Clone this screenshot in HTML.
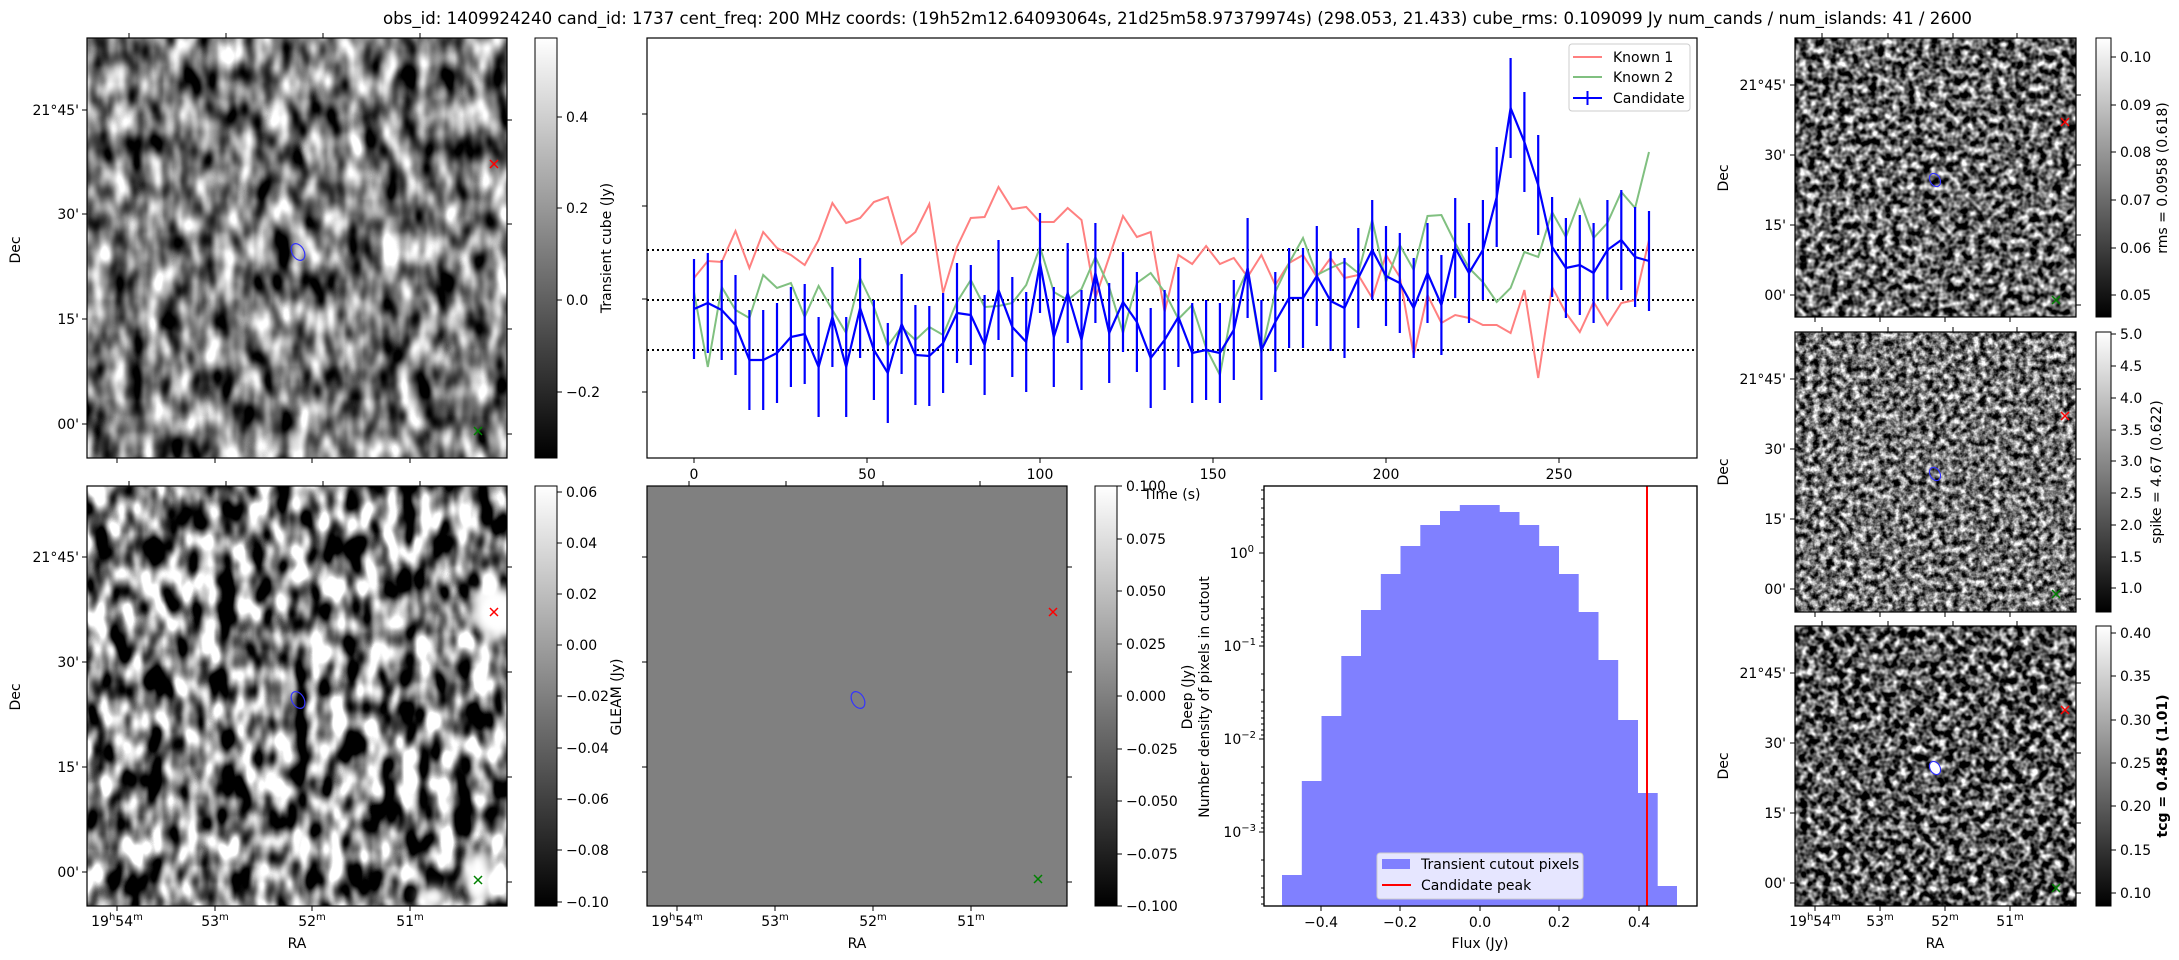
<!DOCTYPE html>
<html><head><meta charset="utf-8"><style>
html,body{margin:0;padding:0;background:#fff;}
svg{display:block;font-family:"DejaVu Sans","Liberation Sans",sans-serif;}
</style></head><body>
<svg width="2179" height="960" viewBox="0 0 2179 960" xmlns="http://www.w3.org/2000/svg">
<defs>
<linearGradient id="cb" x1="0" y1="1" x2="0" y2="0"><stop offset="0" stop-color="#000"/><stop offset="1" stop-color="#fff"/></linearGradient>
<filter id="n1" filterUnits="userSpaceOnUse" x="87" y="38" width="420" height="420" color-interpolation-filters="sRGB">
<feTurbulence type="fractalNoise" baseFrequency="0.055 0.03" numOctaves="2" seed="3"/>
<feColorMatrix type="matrix" values="2.0 0 0 0 -0.52  2.0 0 0 0 -0.52  2.0 0 0 0 -0.52  0 0 0 0 1"/></filter>
<filter id="n2" filterUnits="userSpaceOnUse" x="87" y="486" width="420" height="420" color-interpolation-filters="sRGB">
<feTurbulence type="fractalNoise" baseFrequency="0.055 0.03" numOctaves="2" seed="11"/>
<feColorMatrix type="matrix" values="3 0 0 0 -1  3 0 0 0 -1  3 0 0 0 -1  0 0 0 0 1"/></filter>
<filter id="n3" filterUnits="userSpaceOnUse" x="1795" y="38" width="281" height="279" color-interpolation-filters="sRGB">
<feTurbulence type="fractalNoise" baseFrequency="0.13" numOctaves="2" seed="5"/>
<feColorMatrix type="matrix" values="2.2 0 0 0 -0.7  2.2 0 0 0 -0.7  2.2 0 0 0 -0.7  0 0 0 0 1"/></filter>
<filter id="n4" filterUnits="userSpaceOnUse" x="1795" y="332" width="281" height="280" color-interpolation-filters="sRGB">
<feTurbulence type="fractalNoise" baseFrequency="0.15" numOctaves="3" seed="8"/>
<feColorMatrix type="matrix" values="2.0 0 0 0 -0.55  2.0 0 0 0 -0.55  2.0 0 0 0 -0.55  0 0 0 0 1"/></filter>
<filter id="n5" filterUnits="userSpaceOnUse" x="1795" y="626" width="281" height="280" color-interpolation-filters="sRGB">
<feTurbulence type="fractalNoise" baseFrequency="0.13" numOctaves="2" seed="21"/>
<feColorMatrix type="matrix" values="2.4 0 0 0 -0.85  2.4 0 0 0 -0.85  2.4 0 0 0 -0.85  0 0 0 0 1"/></filter>
<filter id="bl" x="-50%" y="-50%" width="200%" height="200%"><feGaussianBlur stdDeviation="5"/></filter>
<clipPath id="cbl"><rect x="87" y="486" width="420" height="420"/></clipPath>
</defs>

<!-- Title -->
<text x="383" y="24" font-size="16.5" textLength="1589" lengthAdjust="spacingAndGlyphs">obs_id: 1409924240 cand_id: 1737 cent_freq: 200 MHz coords: (19h52m12.64093064s, 21d25m58.97379974s) (298.053, 21.433) cube_rms: 0.109099 Jy num_cands / num_islands: 41 / 2600</text>

<!-- ============ Top-left image ============ -->
<rect x="87" y="38" width="420" height="420" filter="url(#n1)"/>
<rect x="87" y="38" width="420" height="420" fill="none" stroke="#000" stroke-width="1.2"/>
<g stroke="#000" stroke-width="1">
<path d="M129 38v-5M226 38v-5M323 38v-5M420 38v-5M117 458v5M215 458v5M312 458v5M410 458v5M87 110h-5M87 214h-5M87 319h-5M87 424h-5M507 120h5M507 224h5M507 329h5M507 434h5"/>
</g>
<g font-size="14" text-anchor="end">
<text x="79" y="115">21°45'</text><text x="79" y="219">30'</text><text x="79" y="324">15'</text><text x="79" y="429">00'</text>
</g>
<text transform="rotate(-90 16 250)" x="16" y="250" font-size="14" text-anchor="middle" dominant-baseline="central">Dec</text>
<path d="M490 160l8 8M498 160l-8 8" stroke="red" stroke-width="1.5"/>
<path d="M474 427l8 8M482 427l-8 8" stroke="green" stroke-width="1.5"/>
<ellipse cx="298" cy="252" rx="6" ry="9" transform="rotate(-30 298 252)" fill="none" stroke="#3333ff" stroke-width="1.2"/>
<!-- colorbar -->
<rect x="535" y="38" width="22" height="420" fill="url(#cb)" stroke="#000" stroke-width="1"/>
<g stroke="#000"><path d="M557 117h5M557 208h5M557 300h5M557 392h5"/></g>
<g font-size="14"><text x="566" y="122">0.4</text><text x="566" y="213">0.2</text><text x="566" y="305">0.0</text><text x="566" y="397">−0.2</text></g>
<text transform="rotate(-90 607 248)" x="607" y="248" font-size="14" text-anchor="middle" dominant-baseline="central">Transient cube (Jy)</text>

<!-- ============ Light curve ============ -->
<rect x="647" y="38" width="1050" height="420" fill="#fff" stroke="#000" stroke-width="1.2"/>
<g stroke="#000"><path d="M647 114h-5M647 206h-5M647 299h-5M647 392h-5M694 458v5M867 458v5M1040 458v5M1213 458v5M1386 458v5M1559 458v5"/></g>
<g font-size="14" text-anchor="middle"><text x="694" y="479">0</text><text x="867" y="479">50</text><text x="1040" y="479">100</text><text x="1213" y="479">150</text><text x="1386" y="479">200</text><text x="1559" y="479">250</text></g>
<text x="1172" y="499" font-size="14" text-anchor="middle">Time (s)</text>
<g stroke="#000" stroke-width="2" stroke-dasharray="2,3"><path d="M647 250H1697M647 300H1697M647 350H1697"/></g>
<polyline fill="none" stroke="#ff8080" stroke-width="2" points="694,278 707.8,261 721.7,262 735.5,231 749.4,268 763.2,232 777,248 790.9,255 804.7,265 818.6,240 832.4,203 846.2,223 860.1,218 873.9,202 887.8,197 901.6,244 915.4,232 929.3,204 943.1,293 957,247 970.8,218 984.6,217 998.5,187 1012.3,209 1026.2,207 1040,222 1053.8,222 1067.7,208 1081.5,220 1095.4,298 1109.2,257 1123,216 1136.9,237 1150.7,232 1164.6,312 1178.4,255 1192.2,264 1206.1,246 1219.9,264 1233.8,258 1247.6,277 1261.4,255 1275.3,285 1289.1,263 1303,255 1316.8,277 1330.6,258 1344.5,278 1358.3,275 1372.2,298 1386,255 1399.8,277 1413.7,355 1427.5,295 1441.4,323 1455.2,315 1469,318 1482.9,325 1496.7,325 1510.6,333 1524.4,290 1538.2,378 1552.1,287 1565.9,313 1579.8,332 1593.6,302 1607.4,325 1621.3,303 1635.1,300 1649,240"/>
<polyline fill="none" stroke="#80c080" stroke-width="2" points="694,292 707.8,367 721.7,287 735.5,310 749.4,318 763.2,275 777,288 790.9,283 804.7,317 818.6,286 832.4,310 846.2,333 860.1,278 873.9,307 887.8,346 901.6,327 915.4,340 929.3,327 943.1,335 957,302 970.8,280 984.6,307 998.5,306 1012.3,303 1026.2,285 1040,247 1053.8,292 1067.7,300 1081.5,289 1095.4,257 1109.2,287 1123,333 1136.9,283 1150.7,273 1164.6,292 1178.4,319 1192.2,305 1206.1,348 1219.9,375 1233.8,300 1247.6,270 1261.4,353 1275.3,292 1289.1,263 1303,238 1316.8,275 1330.6,268 1344.5,262 1358.3,273 1372.2,220 1386,282 1399.8,245 1413.7,270 1427.5,216 1441.4,215 1455.2,243 1469,268 1482.9,282 1496.7,302 1510.6,288 1524.4,252 1538.2,257 1552.1,212 1565.9,237 1579.8,200 1593.6,238 1607.4,223 1621.3,192 1635.1,208 1649,152"/>
<g stroke="#0000ff" stroke-width="2.2">
<path d="M694 259v100M707.8 253v100M721.7 260v100M735.5 275v100M749.4 310v100M763.2 310v100M777 303v100M790.9 287v100M804.7 284v100M818.6 317v100M832.4 267v100M846.2 317v100M860.1 258v100M873.9 300v100M887.8 323v100M901.6 274v100M915.4 305v100M929.3 306v100M943.1 293v100M957 263v100M970.8 265v100M984.6 295v100M998.5 240v100M1012.3 277v100M1026.2 292v100M1040 213v100M1053.8 287v100M1067.7 243v100M1081.5 290v100M1095.4 223v100M1109.2 283v100M1123 252v100M1136.9 272v100M1150.7 308v100M1164.6 290v100M1178.4 267v100M1192.2 303v100M1206.1 300v100M1219.9 303v100M1233.8 280v100M1247.6 218v100M1261.4 300v100M1275.3 272v100M1289.1 248v100M1303 248v100M1316.8 226v100M1330.6 251v100M1344.5 258v100M1358.3 228v100M1372.2 200v100M1386 226v100M1399.8 233v100M1413.7 258v100M1427.5 223v100M1441.4 255v100M1455.2 198v100M1469 223v100M1482.9 200v100M1496.7 147v100M1510.6 58v100M1524.4 92v100M1538.2 135v100M1552.1 197v100M1565.9 218v100M1579.8 215v100M1593.6 223v100M1607.4 200v100M1621.3 190v100M1635.1 207v100M1649 211v100"/>
</g>
<polyline fill="none" stroke="#0000ff" stroke-width="2.2" points="694,309 707.8,303 721.7,310 735.5,325 749.4,360 763.2,360 777,353 790.9,337 804.7,334 818.6,367 832.4,317 846.2,367 860.1,308 873.9,350 887.8,373 901.6,324 915.4,355 929.3,356 943.1,343 957,313 970.8,315 984.6,345 998.5,290 1012.3,327 1026.2,342 1040,263 1053.8,337 1067.7,293 1081.5,340 1095.4,273 1109.2,333 1123,302 1136.9,322 1150.7,358 1164.6,340 1178.4,317 1192.2,353 1206.1,350 1219.9,353 1233.8,330 1247.6,268 1261.4,350 1275.3,322 1289.1,298 1303,298 1316.8,276 1330.6,301 1344.5,308 1358.3,278 1372.2,250 1386,276 1399.8,283 1413.7,308 1427.5,273 1441.4,305 1455.2,248 1469,273 1482.9,250 1496.7,197 1510.6,108 1524.4,142 1538.2,185 1552.1,247 1565.9,268 1579.8,265 1593.6,273 1607.4,250 1621.3,240 1635.1,257 1649,261"/>
<!-- legend -->
<rect x="1569" y="44" width="121" height="67" rx="3" fill="#fff" fill-opacity="0.8" stroke="#ccc"/>
<path d="M1573 57h29" stroke="#ff8080" stroke-width="2"/>
<path d="M1573 77h29" stroke="#80c080" stroke-width="2"/>
<path d="M1573 98h29M1587.5 91v14" stroke="#0000ff" stroke-width="2"/>
<g font-size="14"><text x="1613" y="62">Known 1</text><text x="1613" y="82">Known 2</text><text x="1613" y="103">Candidate</text></g>

<!-- ============ Bottom-left GLEAM ============ -->
<rect x="87" y="486" width="420" height="420" filter="url(#n2)"/>
<g clip-path="url(#cbl)" filter="url(#bl)" fill="#fff">
<ellipse cx="496" cy="612" rx="24" ry="26"/>
<ellipse cx="478" cy="876" rx="14" ry="26"/>
<ellipse cx="432" cy="897" rx="14" ry="10"/>
</g>
<rect x="87" y="486" width="420" height="420" fill="none" stroke="#000" stroke-width="1.2"/>
<g stroke="#000"><path d="M129 486v-5M226 486v-5M323 486v-5M420 486v-5M117 906v5M215 906v5M312 906v5M410 906v5M87 557h-5M87 662h-5M87 767h-5M87 872h-5M507 567h5M507 672h5M507 777h5M507 882h5"/></g>
<g font-size="14" text-anchor="end"><text x="79" y="562">21°45'</text><text x="79" y="667">30'</text><text x="79" y="772">15'</text><text x="79" y="877">00'</text></g>
<text transform="rotate(-90 16 697)" x="16" y="697" font-size="14" text-anchor="middle" dominant-baseline="central">Dec</text>
<g font-size="14" text-anchor="middle">
<text x="117" y="926">19<tspan font-size="10" dy="-6">h</tspan><tspan dy="6">54</tspan><tspan font-size="10" dy="-6">m</tspan></text>
<text x="215" y="926">53<tspan font-size="10" dy="-6">m</tspan></text>
<text x="312" y="926">52<tspan font-size="10" dy="-6">m</tspan></text>
<text x="410" y="926">51<tspan font-size="10" dy="-6">m</tspan></text>
<text x="297" y="948">RA</text></g>
<path d="M490 608l8 8M498 608l-8 8" stroke="red" stroke-width="1.5"/>
<path d="M474 876l8 8M482 876l-8 8" stroke="green" stroke-width="1.5"/>
<ellipse cx="298" cy="700" rx="6" ry="9" transform="rotate(-30 298 700)" fill="none" stroke="#3333ff" stroke-width="1.2"/>
<rect x="535" y="486" width="22" height="420" fill="url(#cb)" stroke="#000"/>
<g stroke="#000"><path d="M557 492h5M557 543h5M557 594h5M557 645h5M557 696h5M557 748h5M557 799h5M557 850h5M557 902h5"/></g>
<g font-size="14"><text x="566" y="497">0.06</text><text x="566" y="548">0.04</text><text x="566" y="599">0.02</text><text x="566" y="650">0.00</text><text x="566" y="701">−0.02</text><text x="566" y="753">−0.04</text><text x="566" y="804">−0.06</text><text x="566" y="855">−0.08</text><text x="566" y="907">−0.10</text></g>
<text transform="rotate(-90 617 697)" x="617" y="697" font-size="14" text-anchor="middle" dominant-baseline="central">GLEAM (Jy)</text>

<!-- ============ Bottom-mid Deep ============ -->
<rect x="647" y="486" width="420" height="420" fill="#808080" stroke="#000" stroke-width="1.2"/>
<g stroke="#000"><path d="M689 486v-5M786 486v-5M883 486v-5M980 486v-5M677 906v5M775 906v5M873 906v5M971 906v5M647 557h-5M647 662h-5M647 767h-5M647 872h-5M1067 567h5M1067 672h5M1067 777h5M1067 882h5"/></g>
<g font-size="14" text-anchor="middle">
<text x="677" y="926">19<tspan font-size="10" dy="-6">h</tspan><tspan dy="6">54</tspan><tspan font-size="10" dy="-6">m</tspan></text>
<text x="775" y="926">53<tspan font-size="10" dy="-6">m</tspan></text>
<text x="873" y="926">52<tspan font-size="10" dy="-6">m</tspan></text>
<text x="971" y="926">51<tspan font-size="10" dy="-6">m</tspan></text>
<text x="857" y="948">RA</text></g>
<path d="M1049 608l8 8M1057 608l-8 8" stroke="red" stroke-width="1.5"/>
<path d="M1034 875l8 8M1042 875l-8 8" stroke="green" stroke-width="1.5"/>
<ellipse cx="858" cy="700" rx="6" ry="9" transform="rotate(-30 858 700)" fill="none" stroke="#3333ff" stroke-width="1.2"/>
<rect x="1095" y="486" width="22" height="420" fill="url(#cb)" stroke="#000"/>
<g stroke="#000"><path d="M1117 486h5M1117 539h5M1117 591h5M1117 644h5M1117 696h5M1117 749h5M1117 801h5M1117 854h5M1117 906h5"/></g>
<g font-size="14"><text x="1126" y="491">0.100</text><text x="1126" y="544">0.075</text><text x="1126" y="596">0.050</text><text x="1126" y="649">0.025</text><text x="1126" y="701">0.000</text><text x="1126" y="754">−0.025</text><text x="1126" y="806">−0.050</text><text x="1126" y="859">−0.075</text><text x="1126" y="911">−0.100</text></g>
<text transform="rotate(-90 1188 697)" x="1188" y="697" font-size="14" text-anchor="middle" dominant-baseline="central">Deep (Jy)</text>

<!-- ============ Histogram ============ -->
<rect x="1264" y="486" width="433" height="420" fill="#fff" stroke="#000" stroke-width="1.2"/>
<g fill="#8080ff">
<rect x="1282" y="875" width="20.2" height="31"/><rect x="1301.8" y="781" width="20.2" height="125"/><rect x="1321.5" y="716" width="20.2" height="190"/><rect x="1341.3" y="656" width="20.2" height="250"/><rect x="1361" y="610" width="20.2" height="296"/><rect x="1380.8" y="574" width="20.2" height="332"/><rect x="1400.5" y="546" width="20.2" height="360"/><rect x="1420.3" y="525" width="20.2" height="381"/><rect x="1440" y="511" width="20.2" height="395"/><rect x="1459.8" y="505" width="20.2" height="401"/><rect x="1479.5" y="505" width="20.2" height="401"/><rect x="1499.3" y="512" width="20.2" height="394"/><rect x="1519" y="525" width="20.2" height="381"/><rect x="1538.8" y="546" width="20.2" height="360"/><rect x="1558.5" y="574" width="20.2" height="332"/><rect x="1578.3" y="612" width="20.2" height="294"/><rect x="1598" y="660" width="20.2" height="246"/><rect x="1617.8" y="720" width="20.2" height="186"/><rect x="1637.5" y="793" width="20.2" height="113"/><rect x="1657.3" y="886" width="19.7" height="20"/>
</g>
<path d="M1647 486V906" stroke="red" stroke-width="2"/>
<rect x="1264" y="486" width="433" height="420" fill="none" stroke="#000" stroke-width="1.2"/>
<g stroke="#000">
<path d="M1321 906v5M1400 906v5M1480 906v5M1559 906v5M1639 906v5"/>
<path d="M1264 553h-5M1264 646h-5M1264 739h-5M1264 832h-5"/>
<path d="M1264 490h-3M1264 499h-3M1264 508h-3M1264 519h-3M1264 525h-3M1264 537h-3M1264 581h-3M1264 597h-3M1264 609h-3M1264 618h-3M1264 625h-3M1264 631h-3M1264 637h-3M1264 642h-3M1264 674h-3M1264 690h-3M1264 702h-3M1264 711h-3M1264 718h-3M1264 724h-3M1264 730h-3M1264 735h-3M1264 767h-3M1264 783h-3M1264 795h-3M1264 804h-3M1264 811h-3M1264 817h-3M1264 823h-3M1264 828h-3M1264 860h-3M1264 876h-3M1264 888h-3M1264 897h-3M1264 904h-3"/>
</g>
<g font-size="14" text-anchor="end"><text x="1254" y="558">10<tspan font-size="10" dy="-6">0</tspan></text><text x="1256" y="651">10<tspan font-size="10" dy="-6">−1</tspan></text><text x="1256" y="744">10<tspan font-size="10" dy="-6">−2</tspan></text><text x="1256" y="837">10<tspan font-size="10" dy="-6">−3</tspan></text></g>
<g font-size="14" text-anchor="middle"><text x="1321" y="927">−0.4</text><text x="1400" y="927">−0.2</text><text x="1480" y="927">0.0</text><text x="1559" y="927">0.2</text><text x="1639" y="927">0.4</text><text x="1480" y="948">Flux (Jy)</text></g>
<text transform="rotate(-90 1205 697)" x="1205" y="697" font-size="14" text-anchor="middle" dominant-baseline="central">Number density of pixels in cutout</text>
<rect x="1377" y="853" width="206" height="46" rx="3" fill="#fff" fill-opacity="0.8" stroke="#ccc"/>
<rect x="1382" y="859" width="28" height="10" fill="#8080ff"/>
<path d="M1382 885h29" stroke="red" stroke-width="2"/>
<g font-size="14"><text x="1421" y="869">Transient cutout pixels</text><text x="1421" y="890">Candidate peak</text></g>

<!-- ============ Right column ============ -->
<rect x="1795" y="38" width="281" height="279" filter="url(#n3)"/>
<rect x="1795" y="38" width="281" height="279" fill="none" stroke="#000" stroke-width="1.2"/>
<g stroke="#000"><path d="M1822 38v-5M1888 38v-5M1953 38v-5M2017 38v-5M1815 317v5M1880 317v5M1945 317v5M2010 317v5M1795 85h-5M1795 155h-5M1795 225h-5M1795 295h-5M2076 95h5M2076 165h5M2076 235h5M2076 305h5"/></g>
<g font-size="14" text-anchor="end"><text x="1786" y="90">21°45'</text><text x="1786" y="160">30'</text><text x="1786" y="230">15'</text><text x="1786" y="300">00'</text></g>
<text transform="rotate(-90 1724 178)" x="1724" y="178" font-size="14" text-anchor="middle" dominant-baseline="central">Dec</text>
<path d="M2061 118l8 8M2069 118l-8 8" stroke="red" stroke-width="1.5"/>
<path d="M2052 296l8 8M2060 296l-8 8" stroke="green" stroke-width="1.5"/>
<ellipse cx="1935" cy="180" rx="5" ry="7" transform="rotate(-30 1935 180)" fill="none" stroke="#3333ff" stroke-width="1.2"/>
<rect x="2096" y="38" width="15" height="279" fill="url(#cb)" stroke="#000"/>
<g stroke="#000"><path d="M2111 57h5M2111 105h5M2111 152h5M2111 200h5M2111 248h5M2111 295h5"/></g>
<g font-size="14"><text x="2120" y="62">0.10</text><text x="2120" y="110">0.09</text><text x="2120" y="157">0.08</text><text x="2120" y="205">0.07</text><text x="2120" y="253">0.06</text><text x="2120" y="300">0.05</text></g>
<text transform="rotate(-90 2163 178)" x="2163" y="178" font-size="14" text-anchor="middle" dominant-baseline="central">rms = 0.0958 (0.618)</text>

<rect x="1795" y="332" width="281" height="280" filter="url(#n4)"/>
<rect x="1795" y="332" width="281" height="280" fill="none" stroke="#000" stroke-width="1.2"/>
<g stroke="#000"><path d="M1822 332v-5M1888 332v-5M1953 332v-5M2017 332v-5M1815 612v5M1880 612v5M1945 612v5M2010 612v5M1795 379h-5M1795 449h-5M1795 519h-5M1795 589h-5M2076 389h5M2076 459h5M2076 529h5M2076 599h5"/></g>
<g font-size="14" text-anchor="end"><text x="1786" y="384">21°45'</text><text x="1786" y="454">30'</text><text x="1786" y="524">15'</text><text x="1786" y="594">00'</text></g>
<text transform="rotate(-90 1724 472)" x="1724" y="472" font-size="14" text-anchor="middle" dominant-baseline="central">Dec</text>
<path d="M2061 412l8 8M2069 412l-8 8" stroke="red" stroke-width="1.5"/>
<path d="M2052 590l8 8M2060 590l-8 8" stroke="green" stroke-width="1.5"/>
<ellipse cx="1935" cy="474" rx="5" ry="7" transform="rotate(-30 1935 474)" fill="none" stroke="#3333ff" stroke-width="1.2"/>
<rect x="2096" y="332" width="15" height="280" fill="url(#cb)" stroke="#000"/>
<g stroke="#000"><path d="M2111 334h5M2111 366h5M2111 398h5M2111 430h5M2111 461h5M2111 493h5M2111 525h5M2111 557h5M2111 588h5"/></g>
<g font-size="14"><text x="2120" y="339">5.0</text><text x="2120" y="371">4.5</text><text x="2120" y="403">4.0</text><text x="2120" y="435">3.5</text><text x="2120" y="466">3.0</text><text x="2120" y="498">2.5</text><text x="2120" y="530">2.0</text><text x="2120" y="562">1.5</text><text x="2120" y="593">1.0</text></g>
<text transform="rotate(-90 2157 472)" x="2157" y="472" font-size="14" text-anchor="middle" dominant-baseline="central">spike = 4.67 (0.622)</text>

<rect x="1795" y="626" width="281" height="280" filter="url(#n5)"/>
<ellipse cx="1935" cy="768" rx="5" ry="7" transform="rotate(-30 1935 768)" fill="#fff" stroke="#3333ff" stroke-width="1.2"/>
<rect x="1795" y="626" width="281" height="280" fill="none" stroke="#000" stroke-width="1.2"/>
<g stroke="#000"><path d="M1822 626v-5M1888 626v-5M1953 626v-5M2017 626v-5M1815 906v5M1880 906v5M1945 906v5M2010 906v5M1795 673h-5M1795 743h-5M1795 813h-5M1795 883h-5M2076 683h5M2076 753h5M2076 823h5M2076 893h5"/></g>
<g font-size="14" text-anchor="end"><text x="1786" y="678">21°45'</text><text x="1786" y="748">30'</text><text x="1786" y="818">15'</text><text x="1786" y="888">00'</text></g>
<text transform="rotate(-90 1724 766)" x="1724" y="766" font-size="14" text-anchor="middle" dominant-baseline="central">Dec</text>
<path d="M2061 706l8 8M2069 706l-8 8" stroke="red" stroke-width="1.5"/>
<path d="M2052 884l8 8M2060 884l-8 8" stroke="green" stroke-width="1.5"/>
<g font-size="14" text-anchor="middle">
<text x="1815" y="926">19<tspan font-size="10" dy="-6">h</tspan><tspan dy="6">54</tspan><tspan font-size="10" dy="-6">m</tspan></text>
<text x="1880" y="926">53<tspan font-size="10" dy="-6">m</tspan></text>
<text x="1945" y="926">52<tspan font-size="10" dy="-6">m</tspan></text>
<text x="2010" y="926">51<tspan font-size="10" dy="-6">m</tspan></text>
<text x="1935" y="948">RA</text></g>
<rect x="2096" y="626" width="15" height="280" fill="url(#cb)" stroke="#000"/>
<g stroke="#000"><path d="M2111 633h5M2111 676h5M2111 720h5M2111 763h5M2111 806h5M2111 850h5M2111 893h5"/></g>
<g font-size="14"><text x="2120" y="638">0.40</text><text x="2120" y="681">0.35</text><text x="2120" y="725">0.30</text><text x="2120" y="768">0.25</text><text x="2120" y="811">0.20</text><text x="2120" y="855">0.15</text><text x="2120" y="898">0.10</text></g>
<text transform="rotate(-90 2163 766)" x="2163" y="766" font-size="14" font-weight="bold" text-anchor="middle" dominant-baseline="central">tcg = 0.485 (1.01)</text>
</svg>
</body></html>
